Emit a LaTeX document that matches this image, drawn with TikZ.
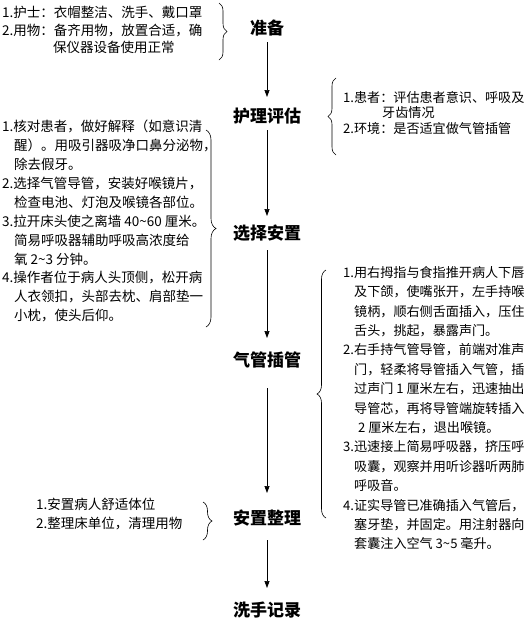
\documentclass[tikz,border=0pt]{standalone}
\usepackage{fontspec}
\setmainfont{Noto Sans CJK SC}
\usetikzlibrary{arrows.meta,decorations.pathreplacing}
\tikzset{
  title/.style={font=\fontsize{17}{20}\selectfont\bfseries, inner sep=0pt, anchor=center},
  body/.style={align=left, inner sep=0pt, anchor=north west},
  arr/.style={-{Triangle[length=7pt,width=5pt]}, line width=0.7pt},
  brc/.style={decorate, decoration={brace, amplitude=#1}, line width=0.6pt},
  brc/.default=8pt
}
\newcommand{\tl}{\textasciitilde}
\begin{document}
\begin{tikzpicture}[x=1pt,y=-1pt]
\fill[white] (0,0) rectangle (527,627);
\useasboundingbox (0,0) rectangle (527,627);

% titles
\node[title] (t1) at (267,28) {准备};
\node[title] (t2) at (267,116) {护理评估};
\node[title] (t3) at (267,233) {选择安置};
\node[title] (t4) at (267,360) {气管插管};
\node[title] (t5) at (267,518) {安置整理};
\node[title] (t6) at (267,610) {洗手记录};

% arrows
\draw[arr] ([yshift=-14pt]t1.center) -- ([yshift=19pt]t2.center);
\draw[arr] ([yshift=-14pt]t2.center) -- ([yshift=17pt]t3.center);
\draw[arr] ([yshift=-17pt]t3.center) -- ([yshift=22pt]t4.center);
\draw[arr] ([yshift=-28pt]t4.center) -- ([yshift=25pt]t5.center);
\draw[arr] ([yshift=-22pt]t5.center) -- ([yshift=22pt]t6.center);

% text blocks
\node[body, font=\fontsize{13.5}{17.5}\selectfont] (b1) at (2,6) {1.护士：衣帽整洁、洗手、戴口罩\\
2.用物：备齐用物，放置合适，确\\
\hspace*{51pt}保仪器设备使用正常};

\node[body, font=\fontsize{13.1}{15.5}\selectfont] (b2) at (343,91) {1.患者：评估患者意识、呼吸及\\
\hspace*{39pt}牙齿情况\\
2.环境：是否适宜做气管插管};

\node[body, font=\fontsize{13.5}{18.9}\selectfont] (b3) at (2,120) {1.核对患者，做好解释（如意识清\\
\hspace*{12pt}醒）。用吸引器吸净口鼻分泌物，\\
\hspace*{12pt}除去假牙。\\
2.选择气管导管，安装好喉镜片，\\
\hspace*{12pt}检查电池、灯泡及喉镜各部位。\\
3.拉开床头使之离墙 40\tl60 厘米。\\
\hspace*{12pt}简易呼吸器辅助呼吸高浓度给\\
\hspace*{12pt}氧 2\tl3 分钟。\\
4.操作者位于病人头顶侧，松开病\\
\hspace*{12pt}人衣领扣，头部去枕、肩部垫一\\
\hspace*{12pt}小枕，使头后仰。};

\node[body, font=\fontsize{13.1}{19.4}\selectfont] (b4) at (343,266) {1.用右拇指与食指推开病人下唇\\
\hspace*{11pt}及下颌，使嘴张开，左手持喉\\
\hspace*{11pt}镜柄，顺右侧舌面插入，压住\\
\hspace*{11pt}舌头，挑起，暴露声门。\\
2.右手持气管导管，前端对准声\\
\hspace*{11pt}门，轻柔将导管插入气管，插\\
\hspace*{11pt}过声门 1 厘米左右，迅速抽出\\
\hspace*{11pt}导管芯，再将导管端旋转插入\\
\hspace*{15pt}2 厘米左右，退出喉镜。\\
3.迅速接上简易呼吸器，挤压呼\\
\hspace*{11pt}吸囊，观察并用听诊器听两肺\\
\hspace*{11pt}呼吸音。\\
4.证实导管已准确插入气管后，\\
\hspace*{11pt}塞牙垫，并固定。用注射器向\\
\hspace*{11pt}套囊注入空气 3\tl5 毫升。};

\node[body, font=\fontsize{13.5}{19}\selectfont] (b5) at (36,498) {1.安置病人舒适体位\\
2.整理床单位，清理用物};

% braces
\coordinate (k1a) at (219,3);   \coordinate (k1b) at (219,60);
\coordinate (k2a) at (336,155); \coordinate (k2b) at (336,78);
\coordinate (k3a) at (206,130); \coordinate (k3b) at (206,327);
\coordinate (k4a) at (326,518); \coordinate (k4b) at (326,270);
\coordinate (k5a) at (203,502); \coordinate (k5b) at (203,540);
\draw[brc] (k1a) -- (k1b);
\draw[brc] (k2a) -- (k2b);
\draw[brc=10pt] (k3a) -- (k3b);
\draw[brc=9pt] (k4a) -- (k4b);
\draw[brc=9pt] (k5a) -- (k5b);
\end{tikzpicture}
\end{document}
